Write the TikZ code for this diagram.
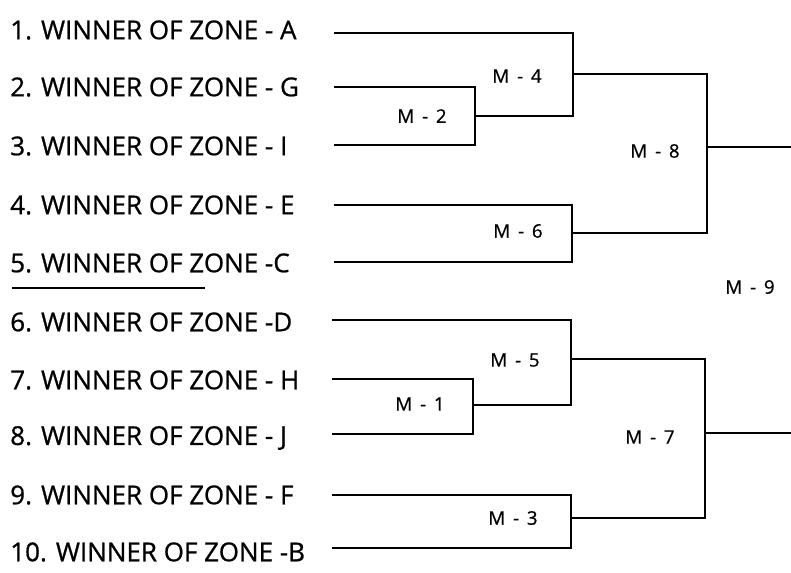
\documentclass[tikz,border=0pt]{standalone}
\usepackage{fontspec}
\setmainfont{Open Sans}
\newfontfamily\teamfont{Open Sans}[FakeBold=0.8]
\newcommand{\mlabel}[1]{M\hspace{0.42em}-\hspace{0.42em}#1}
\begin{document}
\begin{tikzpicture}[x=0.75pt,y=-0.75pt,
  team/.style={anchor=west,inner sep=0pt,font=\teamfont\fontsize{19.5}{24}\selectfont},
  match/.style={inner sep=0pt,font=\teamfont\fontsize{14}{16}\selectfont},
  bracket/.style={line width=1.2pt,line join=miter},
]
\useasboundingbox (0,0) rectangle (791,572);
% entrants
\node[team] (t1) at (10,30) {1. WINNER OF ZONE - A};
\node[team] (t2) at (10,87) {2. WINNER OF ZONE - G};
\node[team] (t3) at (10,146) {3. WINNER OF ZONE - I};
\node[team] (t4) at (10,205) {4. WINNER OF ZONE - E};
\node[team] (t5) at (10,263) {5. WINNER OF ZONE -C};
\node[team] (t6) at (10,322) {6. WINNER OF ZONE -D};
\node[team] (t7) at (10,380) {7. WINNER OF ZONE - H};
\node[team] (t8) at (10,438) {8. WINNER OF ZONE - J};
\node[team] (t9) at (10,495) {9. WINNER OF ZONE - F};
\node[team] (t10) at (10,552) {10. WINNER OF ZONE -B};
\draw[line width=1.3pt] (12,288) -- (205,288);
% line starts
\coordinate (s1) at (334,33);
\coordinate (s2) at (334,87);
\coordinate (s3) at (334,145);
\coordinate (s4) at (334,205);
\coordinate (s5) at (334,262);
\coordinate (s6) at (332,320);
\coordinate (s7) at (332,379);
\coordinate (s8) at (332,434);
\coordinate (s9) at (332,495);
\coordinate (s10) at (332,548);
% junctions
\coordinate (x2) at (475,116);
\coordinate (x4) at (573,74);
\coordinate (x6) at (572,233);
\coordinate (x8) at (707,147);
\coordinate (e8) at (791,147);
\coordinate (x1) at (473,405);
\coordinate (x5) at (571,359);
\coordinate (x3) at (571,518);
\coordinate (x7) at (705,433);
\coordinate (e7) at (791,433);
% brackets
\draw[bracket] (s2) -| (x2) |- (s3);
\draw[bracket] (s1) -| (x4) |- (x2);
\draw[bracket] (s4) -| (x6) |- (s5);
\draw[bracket] (x4) -| (x8) |- (x6);
\draw[bracket] (x8) -- (e8);
\draw[bracket] (s7) -| (x1) |- (s8);
\draw[bracket] (s6) -| (x5) |- (x1);
\draw[bracket] (s9) -| (x3) |- (s10);
\draw[bracket] (x5) -| (x7) |- (x3);
\draw[bracket] (x7) -- (e7);
% match labels
\node[match] (m4) at (517,76) {\mlabel{4}};
\node[match] (m2) at (422,116) {\mlabel{2}};
\node[match] (m8) at (655,151) {\mlabel{8}};
\node[match] (m6) at (518,231) {\mlabel{6}};
\node[match] (m9) at (750,287) {\mlabel{9}};
\node[match] (m5) at (515,360) {\mlabel{5}};
\node[match] (m1) at (420,404) {\mlabel{1}};
\node[match] (m7) at (650,437) {\mlabel{7}};
\node[match] (m3) at (513,518) {\mlabel{3}};
\end{tikzpicture}
\end{document}
